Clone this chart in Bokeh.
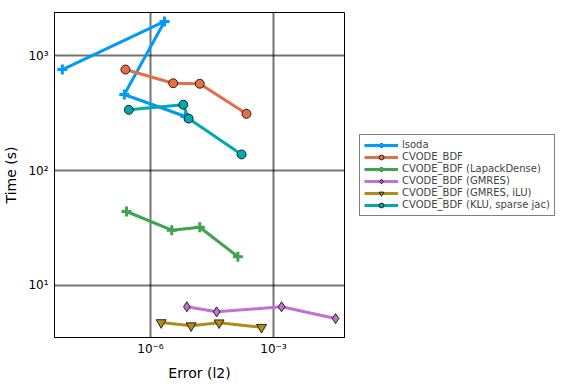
from bokeh.plotting import figure
from bokeh.models import FixedTicker, CustomJSTickFormatter, Legend, LegendItem, Range1d
from bokeh.embed import file_html
from bokeh.resources import INLINE

# ---- data ----
lsoda_err = [7.1e-9, 2.2e-6, 2.3e-7, 7.1e-6]
lsoda_time = [755, 1977, 458, 295]

bdf_err = [2.45e-7, 3.58e-6, 1.59e-5, 2.19e-4]
bdf_time = [755, 574, 568, 311]

lapack_err = [2.6e-7, 3.3e-6, 1.59e-5, 1.35e-4]
lapack_time = [44.0, 30.3, 32.1, 17.8]

gmres_err = [7.7e-6, 4.1e-5, 1.57e-3, 3.25e-2]
gmres_time = [6.53, 5.90, 6.53, 5.16]

ilu_err = [1.82e-6, 9.8e-6, 4.7e-5, 5.1e-4]
ilu_time = [4.76, 4.47, 4.74, 4.33]

klu_err = [2.96e-7, 6.3e-6, 8.5e-6, 1.66e-4]
klu_time = [337, 373, 283, 138]

series = [
    ("lsoda", lsoda_err, lsoda_time, "#009AFA", "cross"),
    ("CVODE_BDF", bdf_err, bdf_time, "#E36F47", "circle"),
    ("CVODE_BDF (LapackDense)", lapack_err, lapack_time, "#3EA44E", "cross"),
    ("CVODE_BDF (GMRES)", gmres_err, gmres_time, "#C271D2", "diamond"),
    ("CVODE_BDF (GMRES, iLU)", ilu_err, ilu_time, "#AC8E18", "inverted_triangle"),
    ("CVODE_BDF (KLU, sparse jac)", klu_err, klu_time, "#00A9AD", "circle"),
]

x_ticks = [1e-6, 1e-3]
y_ticks = [10, 100, 1000]

p = figure(frame_width=290, frame_height=325, x_axis_type="log", y_axis_type="log",
           output_backend="svg", toolbar_location=None,
           x_range=Range1d(4.57e-9, 0.0537), y_range=Range1d(3.53, 2366),
           min_border_left=47, min_border_right=0, min_border_top=12, min_border_bottom=30)

p.background_fill_color = "white"
p.border_fill_color = "white"
p.outline_line_color = "black"
p.outline_line_width = 1

fmt_code = """
const sup = {'-':'\u207b','0':'\u2070','1':'\u00b9','2':'\u00b2','3':'\u00b3','4':'\u2074','5':'\u2075','6':'\u2076','7':'\u2077','8':'\u2078','9':'\u2079'};
const e = Math.round(Math.log10(tick));
return '10' + String(e).split('').map(c => sup[c]).join('');
"""
for ax, ticks in ((p.xaxis, x_ticks), (p.yaxis, y_ticks)):
    ax.ticker = FixedTicker(ticks=ticks)
    ax.formatter = CustomJSTickFormatter(code=fmt_code)
    ax.major_tick_line_color = None
    ax.major_tick_out = 0
    ax.major_tick_in = 0
    ax.minor_tick_line_color = None
    ax.minor_tick_out = 0
    ax.axis_line_color = "black"
    ax.major_label_text_font = "DejaVu Sans"
    ax.major_label_text_font_size = "12px"
    ax.major_label_text_color = "black"
    ax.axis_label_text_font = "DejaVu Sans"
    ax.axis_label_text_font_size = "14px"
    ax.axis_label_text_font_style = "normal"
    ax.axis_label_text_color = "black"

p.xaxis.axis_label = "Error (l2)"
p.yaxis.axis_label = "Time (s)"
p.xaxis.major_label_standoff = 4
p.yaxis.major_label_standoff = 6
p.xaxis.axis_label_standoff = 6
p.yaxis.axis_label_standoff = 6

for g in (p.xgrid, p.ygrid):
    g.grid_line_color = "black"
    g.grid_line_alpha = 0.55
    g.grid_line_width = 2
    g.minor_grid_line_color = None

items = []
for name, xs, ys, col, mk in series:
    r1 = p.line(xs, ys, line_color=col, line_width=3)
    if mk == "cross":
        r2 = p.scatter(xs, ys, marker="cross", size=10, line_color=col, line_width=3)
    else:
        size = {"circle": 9, "diamond": 10, "inverted_triangle": 10}[mk]
        r2 = p.scatter(xs, ys, marker=mk, size=size, fill_color=col,
                       line_color="black", line_width=0.8)
    items.append(LegendItem(label=name, renderers=[r1, r2]))

legend = Legend(items=items, location="center_left", orientation="vertical",
                label_text_font="DejaVu Sans", label_text_font_size="10px",
                label_height=12, glyph_height=12, glyph_width=34, spacing=0,
                padding=4, margin=15, label_standoff=4,
                border_line_color="black", border_line_width=1,
                background_fill_color="white")
p.add_layout(legend, "right")

open("out.html", "w").write(file_html(p, INLINE))
